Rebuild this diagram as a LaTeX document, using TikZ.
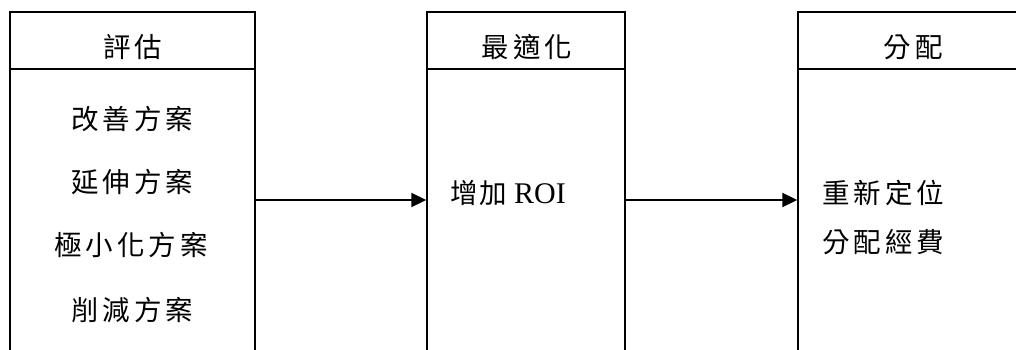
\documentclass[tikz,border=0pt]{standalone}
\usepackage{fontspec}
\setmainfont{Noto Sans CJK TC}
\newfontfamily\latinserif{Liberation Serif}
\usetikzlibrary{arrows.meta}
\makeatletter
\newcommand\spacedtext[1]{\@tfor\sp@ch:=#1\do{\sp@ch\hspace{4pt}}\unskip}
\makeatother
\begin{document}
\begin{tikzpicture}[x=1pt,y=-1pt,
  box/.style={draw, line width=1.4pt, inner sep=0pt},
  divider/.style={line width=1.4pt},
  lbl/.style={inner sep=0pt, font=\fontsize{27.5}{32}\selectfont},
  conn/.style={line width=2pt, -{Triangle[length=15pt,width=14pt]}}]
\useasboundingbox (0,0) rectangle (1016,350);
\clip (0,0) rectangle (1016,350);
% boxes (extend past the bottom/right edges)
\node[box, minimum width=245pt, minimum height=376pt] (b1) at (132.5,200) {};
\node[box, minimum width=198pt, minimum height=376pt] (b2) at (526,200) {};
\node[box, minimum width=232pt, minimum height=376pt] (b3) at (914,200) {};
% header dividers
\draw[divider] (b1.west |- 0,69) -- (b1.east |- 0,69);
\draw[divider] (b2.west |- 0,69) -- (b2.east |- 0,69);
\draw[divider] (b3.west |- 0,69) -- (b3.east |- 0,69);
% headers
\node[lbl] (h1) at (132.5,47) {\spacedtext{評估}};
\node[lbl] (h2) at (527,47) {\spacedtext{最適化}};
\node[lbl] (h3) at (913,47) {\spacedtext{分配}};
% box 1 contents
\node[lbl] (t11) at (132.5,119) {\spacedtext{改善方案}};
\node[lbl] (t12) at (132.5,182) {\spacedtext{延伸方案}};
\node[lbl] (t13) at (131,245) {\spacedtext{極小化方案}};
\node[lbl] (t14) at (132.5,310) {\spacedtext{削減方案}};
% box 2 contents
\node[lbl, anchor=west] (t21) at (450,193) {增\hspace{2pt}加\hspace{7pt}{\latinserif\fontsize{30}{32}\selectfont ROI}};
% box 3 contents
\node[lbl, anchor=west] (t31) at (822,193) {\spacedtext{重新定位}};
\node[lbl, anchor=west] (t32) at (822,242) {\spacedtext{分配經費}};
% connectors
\draw[conn] (b1) -- (b2);
\draw[conn] (b2) -- (b3);
\end{tikzpicture}
\end{document}
